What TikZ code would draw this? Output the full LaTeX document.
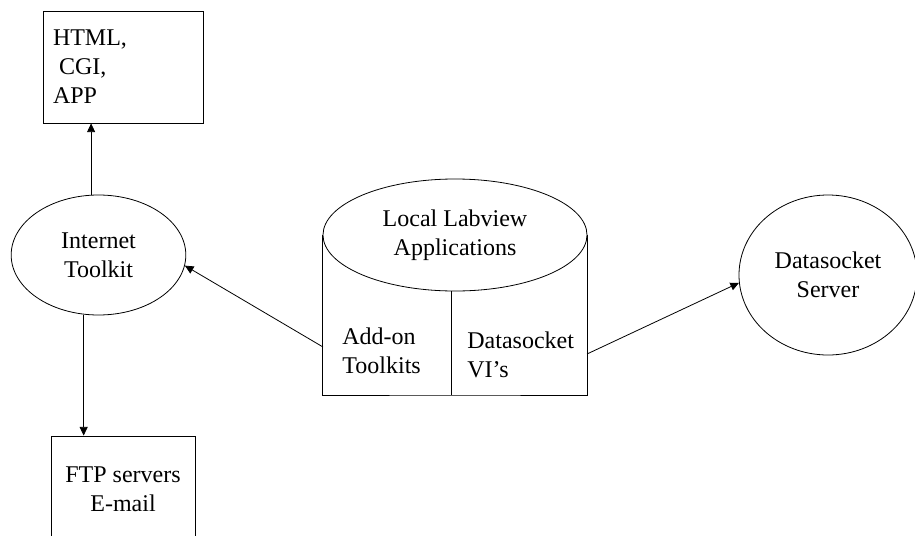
\documentclass[tikz,border=0pt]{standalone}
\usepackage{fontspec}
\setmainfont{Liberation Serif}
\usetikzlibrary{shapes.geometric,arrows.meta}
\newcommand{\tmsfont}{\fontsize{18pt}{21.75pt}\selectfont}
\begin{document}
\begin{tikzpicture}[-,>={Triangle[length=6.5pt,width=6pt]},x=0.75pt,y=-0.75pt,line width=0.6pt,
    box node/.style={rectangle,draw,inner sep=0pt,font=\tmsfont},
    oval node/.style={ellipse,draw,inner sep=0pt,align=center,font=\tmsfont},
    text node/.style={anchor=west,inner sep=0pt,align=left,font=\tmsfont}]

                    \path[use as bounding box,clip] (0,0) rectangle (915,536);

                    \node[box node, text width=105pt, inner xsep=7.5pt, minimum height=84pt, align=left] (1) at (123,67) {HTML,\\\hspace*{0.25em}CGI,\\APP};
                    \node[oval node, minimum width=131pt, minimum height=90pt] (2) at (98.5,255) {Internet\\Toolkit};
                    \node[box node, minimum width=108pt, minimum height=79.5pt, align=center] (3) at (123,489) {FTP servers\\E-mail};
                    \node[oval node, minimum width=198pt, minimum height=84pt] (4) at (455,235) {Local Labview\\Applications};
                    \node[oval node, minimum width=133.5pt, minimum height=120pt] (5) at (828,275) {Datasocket\\Server};

                    \node[text node] (4a) at (342,351) {Add-on\\Toolkits};
                    \node[text node] (4d) at (467,355) {Datasocket\\VI’s};

                    \coordinate (4b) at (455,395);
                    \coordinate (4w) at (323,347);
                    \coordinate (4e) at (587,354);

                    % cylinder body
                    \draw (4.west) |- (4b) -| (4.east);
                    \draw (4.266) -- (4.266 |- 4b);

                    \path
                        (2.97) edge[->] (2.97 |- 1.south)
                        (2.256) edge[->] (2.256 |- 3.north)
                        (4w) edge[->] (2.353)
                        (4e) edge[->] (5.185)
                        ;
                \end{tikzpicture}
\end{document}
